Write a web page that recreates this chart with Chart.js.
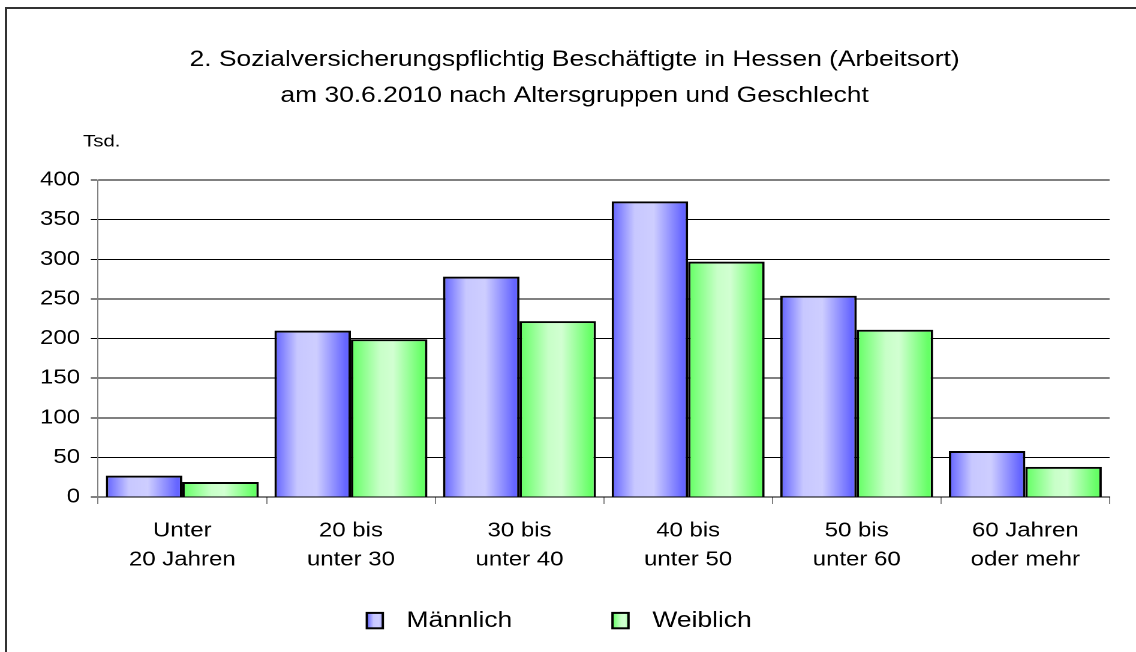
<!DOCTYPE html>
<html>
<head>
<meta charset="utf-8">
<script src="https://cdn.jsdelivr.net/npm/chart.js@4/dist/chart.umd.min.js"></script>
<style>
  html, body { margin: 0; padding: 0; background: #fff; overflow: hidden; width: 1136px; height: 652px; }
  #wrap { position: absolute; left: 0; top: 0; transform-origin: 0 0; transform: scaleX(1.19958); }
  #frame { position: absolute; left: 5px; top: 7px; width: 2000px; height: 2000px;
           border-left: 2px solid #333; border-top: 2px solid #333; pointer-events: none; }
</style>
</head>
<body>
<div id="wrap"><canvas id="c" width="947" height="652"></canvas></div>
<div id="frame"></div>
<script>
const titleLines = ["2. Sozialversicherungspflichtig Beschäftigte in Hessen (Arbeitsort)",
                    "am 30.6.2010 nach Altersgruppen und Geschlecht"];
const unitLabel = "Tsd.";
const categories = [["Unter", "20 Jahren"], ["20 bis", "unter 30"], ["30 bis", "unter 40"],
                    ["40 bis", "unter 50"], ["50 bis", "unter 60"], ["60 Jahren", "oder mehr"]];
const seriesNames = ["Männlich", "Weiblich"];
const maennlich = [27, 210, 278, 373, 254, 58];
const weiblich  = [19, 199, 222, 297, 211, 38];
const yMin = 0, yMax = 400, yStep = 50;

const FONT = "'Liberation Sans', Arial, sans-serif";
Chart.defaults.font.family = FONT;
Chart.defaults.color = '#000';

const gradStops = {
  blue:  [[0, '#6262FF'], [0.3, '#C8C8FF'], [0.55, '#CECEFF'], [0.93, '#6666FF'], [1, '#6464FF']],
  green: [[0, '#62FF62'], [0.38, '#C8FFC8'], [0.55, '#D2FFD2'], [0.93, '#66FF66'], [1, '#64FF64']]
};
const seriesColors = ['blue', 'green'];

function makeGrad(ctx, x0, x1, key) {
  const g = ctx.createLinearGradient(x0, 0, x1, 0);
  gradStops[key].forEach(s => g.addColorStop(s[0], s[1]));
  return g;
}

const gradientPlugin = {
  id: 'barGradients',
  afterDatasetsUpdate(chart) {
    const ctx = chart.ctx;
    chart.data.datasets.forEach((ds, di) => {
      const meta = chart.getDatasetMeta(di);
      meta.data.forEach(bar => {
        const g = makeGrad(ctx, bar.x - bar.width / 2, bar.x + bar.width / 2, seriesColors[di]);
        bar.options = Object.assign({}, bar.options, { backgroundColor: g });
      });
    });
  }
};

const extrasPlugin = {
  id: 'extras',
  afterDraw(chart) {
    const ctx = chart.ctx;
    ctx.save();
    // unit label
    ctx.fillStyle = '#000';
    ctx.font = '17px ' + FONT;
    ctx.textAlign = 'left';
    ctx.textBaseline = 'middle';
    ctx.fillText(unitLabel, 69.2, 142);
    // legend
    const items = [{ box: 305.8, text: 338.9 }, { box: 510.6, text: 543.9 }];
    ctx.font = '22px ' + FONT;
    items.forEach((it, i) => {
      const bx = it.box, by = 612.9, bw = 13.3, bh = 15.4;
      ctx.fillStyle = makeGrad(ctx, bx, bx + bw * 1.4, seriesColors[i]);
      ctx.fillRect(bx, by, bw, bh);
      ctx.lineWidth = 2;
      ctx.strokeStyle = '#000';
      ctx.strokeRect(bx, by, bw, bh);
      ctx.fillStyle = '#000';
      ctx.fillText(chart.data.datasets[i].label, it.text, 621);
    });
    ctx.restore();
  }
};

new Chart(document.getElementById('c'), {
  type: 'bar',
  data: {
    labels: categories,
    datasets: [
      { label: seriesNames[0], data: maennlich, backgroundColor: '#9999FF', borderColor: '#000', borderWidth: 2,
        categoryPercentage: 0.907, barPercentage: 1.0 },
      { label: seriesNames[1], data: weiblich, backgroundColor: '#99FF99', borderColor: '#000', borderWidth: 2,
        categoryPercentage: 0.907, barPercentage: 1.0 }
    ]
  },
  options: {
    responsive: false,
    devicePixelRatio: 2,
    animation: false,
    events: [],
    layout: { padding: { left: 33, right: 22, top: 0, bottom: 0 } },
    plugins: {
      legend: { display: false },
      tooltip: { enabled: false },
      title: {
        display: true,
        text: titleLines,
        color: '#000',
        font: { size: 22, weight: 'normal', lineHeight: 36 / 22 },
        padding: { top: 42, bottom: 66 }
      }
    },
    scales: {
      x: {
        afterFit(scale) { scale.height = 155; },
        grid: { display: true, drawOnChartArea: false, offset: true, tickLength: 7, color: '#808080', lineWidth: 1 },
        border: { display: true, color: '#000', width: 1 },
        ticks: { font: { size: 20, lineHeight: 29 / 20 }, color: '#000', padding: 12.5, maxRotation: 0, autoSkip: false }
      },
      y: {
        min: yMin, max: yMax,
        afterFit(scale) { scale.width = 48.7; },
        grid: { color: '#000', lineWidth: 1, tickLength: 6 },
        border: { display: true, color: '#808080', width: 1 },
        ticks: { stepSize: yStep, font: { size: 20 }, color: '#000', padding: 9 }
      }
    }
  },
  plugins: [gradientPlugin, extrasPlugin]
});
</script>
</body>
</html>
